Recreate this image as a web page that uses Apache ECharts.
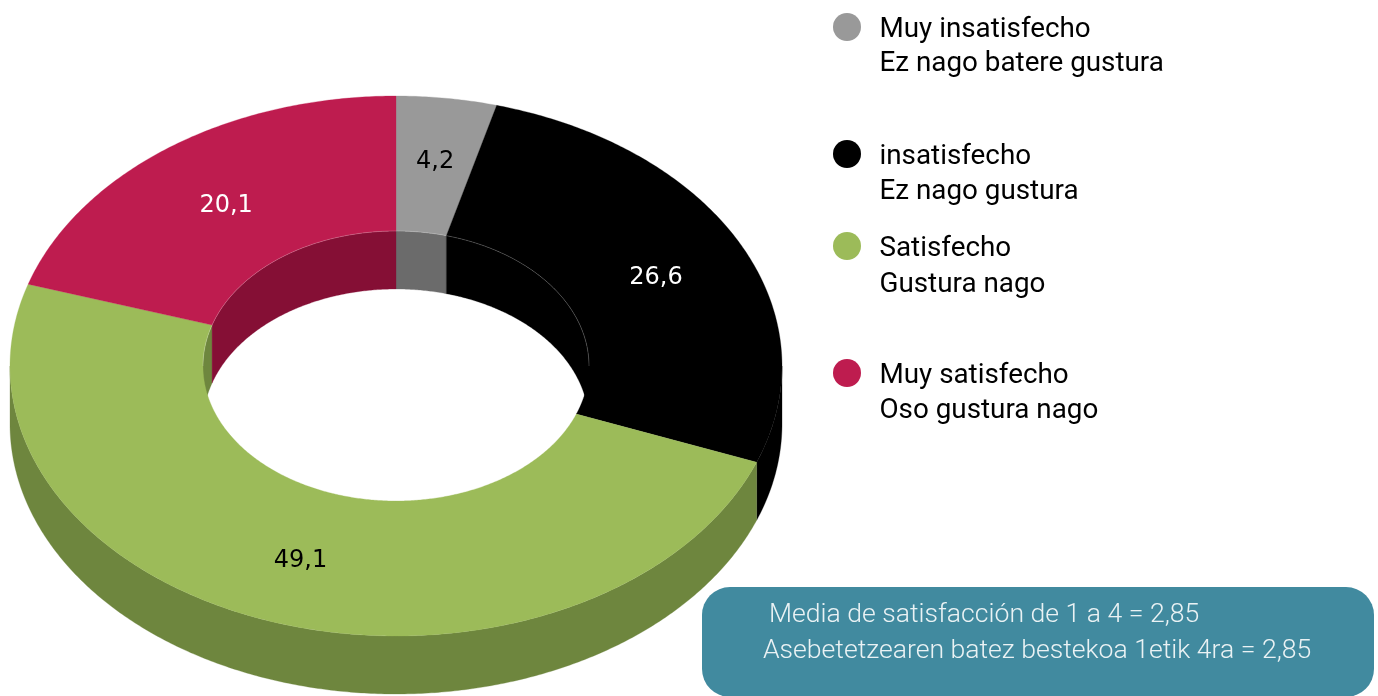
<!DOCTYPE html>
<html>
<head>
<meta charset="utf-8">
<style>
  html, body { margin: 0; padding: 0; background: #fff; }
  #chart { width: 1378px; height: 696px; }
</style>
<script src="https://cdn.jsdelivr.net/npm/echarts@6/dist/echarts.min.js"></script>
</head>
<body>
<div id="chart"></div>
<script>
var categories = ['Muy insatisfecho', 'insatisfecho', 'Satisfecho', 'Muy satisfecho'];
var categoriesEu = ['Ez nago batere gustura', 'Ez nago gustura', 'Gustura nago', 'Oso gustura nago'];
var values = [4.2, 26.6, 49.1, 20.1];
var boxLines = ['Media de satisfacción de 1 a 4 = 2,85', 'Asebetetzearen batez bestekoa 1etik 4ra = 2,85'];

var topColors = ['#999999', '#000000', '#9cbb59', '#be1c4f'];
var wallColors = ['#6b6b6b', '#000000', '#6e863e', '#850f35'];
var labelColors = ['#000000', '#ffffff', '#000000', '#ffffff'];
var labelNudge = [[1, -3], [2, 4], [0, 4], [1, 3]];
var legendRowY = [27, 154, 246, 373];
var legendLine2Gap = [37, 38, 39, 38];

// ring geometry, a flattened circle with a side wall
var cx = 396, cy = 366, rx = 386, ry = 270, irx = 193, iry = 135, depth = 58;
var seam = 'rgba(255,255,255,0.3)';

var total = values.reduce(function (a, b) { return a + b; }, 0);

function startAngle(i) {
    var sum = 0;
    for (var k = 0; k < i; k++) sum += values[k];
    return sum / total * 360;
}

function pt(t, a, b, dy) {
    var r = t * Math.PI / 180;
    return [cx + a * Math.sin(r), cy - b * Math.cos(r) + (dy || 0)];
}

function arc(t0, t1, a, b, dy) {
    var pts = [];
    var n = Math.max(2, Math.ceil(Math.abs(t1 - t0) * 2));
    for (var i = 0; i <= n; i++) pts.push(pt(t0 + (t1 - t0) * i / n, a, b, dy));
    return pts;
}

function band(t0, t1, a, b, dy) {
    return arc(t0, t1, a, b, 0).concat(arc(t1, t0, a, b, dy));
}

function poly(points, fill) {
    return { type: 'polygon', shape: { points: points }, style: { fill: fill, stroke: fill, lineWidth: 0.3 } };
}

function line(points) {
    return { type: 'polyline', shape: { points: points }, style: { fill: null, stroke: seam, lineWidth: 0.7 } };
}

// angle range of a slice cut to [from, to]
function clip(i, from, to) {
    var t0 = Math.max(startAngle(i), from);
    var t1 = Math.min(startAngle(i + 1), to);
    return t1 > t0 ? [t0, t1] : null;
}

function wallLayer(params, api) {
    var i = params.dataIndex, kids = [];
    // inside of the hole: only the far half can be seen
    [[-1, 90], [270, 361]].forEach(function (r) {
        var c = clip(i, r[0], r[1]);
        if (c) kids.push(poly(band(c[0], c[1], irx, iry, depth), wallColors[i]));
    });
    // outer side: only the near half
    var o = clip(i, 90, 270);
    if (o) kids.push(poly(band(o[0], o[1], rx, ry, depth), wallColors[i]));
    return { type: 'group', children: kids };
}

function topLayer(params, api) {
    var i = params.dataIndex;
    var t0 = startAngle(i), t1 = startAngle(i + 1);
    var pts = arc(t0, t1, rx, ry, 0).concat(arc(t1, t0, irx, iry, 0));
    var kids = [poly(pts, topColors[i])];
    [[-1, 90], [270, 361]].forEach(function (r) {
        var c = clip(i, r[0], r[1]);
        if (c) kids.push(line(arc(c[0], c[1], irx, iry, 0)));
    });
    return { type: 'group', children: kids };
}

function labelLayer(params, api) {
    var i = params.dataIndex;
    var p = pt((startAngle(i) + startAngle(i + 1)) / 2, rx * 0.75, ry * 0.75, 0);
    return {
        type: 'text',
        style: {
            text: String(api.value(0)).replace('.', ','),
            x: p[0] + labelNudge[i][0], y: p[1] + labelNudge[i][1],
            align: 'center', verticalAlign: 'middle',
            fill: labelColors[i],
            font: '24px "DejaVu Sans"'
        }
    };
}

var legendItems = [];
categories.forEach(function (name, i) {
    var y = legendRowY[i];
    legendItems.push({ type: 'circle', shape: { cx: 847, cy: y, r: 14 }, style: { fill: topColors[i] } });
    legendItems.push({ type: 'text', style: { text: name, x: 879.5, y: y + 3.5, verticalAlign: 'middle', fill: '#000', font: '27.8px Roboto' } });
    legendItems.push({ type: 'text', style: { text: categoriesEu[i], x: 879.5, y: y + legendLine2Gap[i], verticalAlign: 'middle', fill: '#000', font: '27.8px Roboto' } });
});

var boxItems = [
    { type: 'rect', shape: { x: 702, y: 587, width: 672, height: 110, r: 28 }, style: { fill: '#418a9f' } },
    { type: 'text', style: { text: boxLines[0], x: 769, y: 615, verticalAlign: 'middle', fill: '#eaf2f4', font: '300 26.6px Roboto' } },
    { type: 'text', style: { text: boxLines[1], x: 763, y: 651, verticalAlign: 'middle', fill: '#eaf2f4', font: '300 26.6px Roboto' } }
];

function layer(render, z) {
    return {
        type: 'custom',
        coordinateSystem: 'none',
        renderItem: render,
        data: values,
        z: z,
        silent: true,
        animation: false
    };
}

var chart = echarts.init(document.getElementById('chart'));
chart.setOption({
    animation: false,
    backgroundColor: '#ffffff',
    graphic: legendItems.concat(boxItems),
    series: [layer(wallLayer, 1), layer(topLayer, 2), layer(labelLayer, 3)]
});
</script>
</body>
</html>
